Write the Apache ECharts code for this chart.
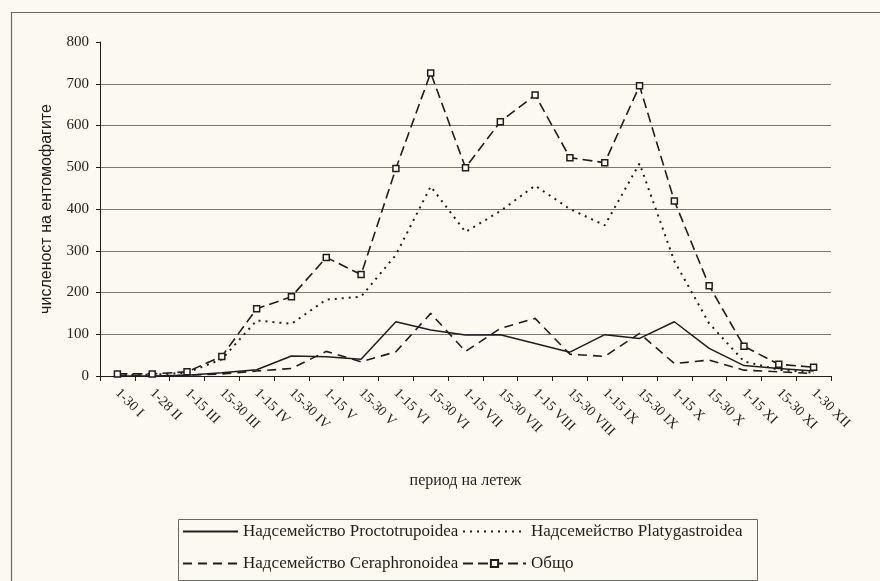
<!DOCTYPE html>
<html>
<head>
<meta charset="utf-8">
<script src="https://cdn.jsdelivr.net/npm/echarts@6/dist/echarts.min.js"></script>
<style>
html,body{margin:0;padding:0;background:#fcfaf0;}
#chart{width:880px;height:581px;}
</style>
</head>
<body>
<div id="chart"></div>
<script>
var categories = ['1-30 I','1-28 II','1-15 III','15-30 III','1-15 IV','15-30 IV','1-15 V','15-30 V','1-15 VI','15-30 VI','1-15 VII','15-30 VII','1-15 VIII','15-30 VIII','1-15 IX','15-30 IX','1-15 X','15-30 X','1-15 XI','15-30 XI','1-30 XII'];
var proctotrupoidea = [0,0,2,8,15,48,46,40,130,110,98,99,78,57,99,90,130,66,25,18,12];
var platygastroidea = [2,3,8,40,133,125,183,190,290,454,345,395,456,400,361,509,275,126,35,15,8];
var ceraphronoidea = [0,0,2,5,12,18,59,34,58,150,59,114,138,52,47,102,30,38,14,10,6];
var obshto = [5,5,10,47,161,190,284,243,497,726,499,609,673,523,511,695,419,216,71,28,21];
var yTicks = {min:0, max:800, interval:100};
var seriesNames = ['Надсемейство Proctotrupoidea','Надсемейство Platygastroidea','Надсемейство Ceraphronoidea','Общо'];

var serif = '"Liberation Serif", "DejaVu Serif", serif';
var sans = '"Liberation Sans", Arial, sans-serif';
var ink = '#1e1e1e';
var paper = '#fcfaf0';

var chart = echarts.init(document.getElementById('chart'), null, {renderer:'canvas'});
function legendAt(name, left, top, width, hideSymbol){
  var l = {
    data:[name], left:left, top:top, orient:'horizontal', padding:0,
    itemWidth:width, itemHeight:9, itemGap:0,
    textStyle:{fontFamily:serif, fontSize:17, color:ink},
    selectedMode:false
  };
  if (hideSymbol) { l.itemStyle = {opacity:0}; }
  return l;
}
var option = {
  backgroundColor:paper,
  animation:false,
  grid:{left:100, right:49, top:42, bottom:205, containLabel:false},
  legend:[
    legendAt(seriesNames[0], 182, 523, 55, true),
    legendAt(seriesNames[1], 462, 523, 63, true),
    legendAt(seriesNames[2], 182, 555, 55, true),
    legendAt(seriesNames[3], 462, 555, 63, false)
  ],
  graphic:[
    {type:'rect', left:9, top:10, shape:{x:0,y:0,width:900,height:600}, style:{fill:'none', stroke:'#6a6a60', lineWidth:1.2}, silent:true},
    {type:'rect', left:176, top:517, shape:{x:0,y:0,width:579,height:61}, style:{fill:'none', stroke:'#6a6a60', lineWidth:1}, silent:true}
  ],
  xAxis:{
    type:'category', data:categories, boundaryGap:true,
    name:'период на летеж', nameLocation:'middle', nameGap:97,
    nameTextStyle:{fontFamily:serif, fontSize:16, color:ink},
    axisLine:{lineStyle:{color:ink, width:1}},
    axisTick:{show:true, alignWithLabel:false, length:5, lineStyle:{color:ink}},
    axisLabel:{interval:0, rotate:-45, margin:15, fontFamily:serif, fontSize:14, color:ink},
    splitLine:{show:false}
  },
  yAxis:{
    type:'value', min:yTicks.min, max:yTicks.max, interval:yTicks.interval,
    name:'численост на ентомофагите', nameLocation:'middle', nameGap:45, nameRotate:90,
    nameTextStyle:{fontFamily:sans, fontSize:16, color:ink},
    axisLine:{show:true, lineStyle:{color:ink, width:1}},
    axisTick:{show:true, length:4, lineStyle:{color:ink}},
    axisLabel:{margin:11, fontFamily:serif, fontSize:15, color:ink},
    splitLine:{show:true, showMinLine:false, showMaxLine:false, lineStyle:{color:'#7a7a6e', width:1}}
  },
  series:[
    {name:seriesNames[0], type:'line', data:proctotrupoidea, symbol:'none',
     lineStyle:{color:ink, width:1.5, type:'solid'}, itemStyle:{color:ink}},
    {name:seriesNames[1], type:'line', data:platygastroidea, symbol:'none',
     lineStyle:{color:ink, width:2, type:[2,5]}, itemStyle:{color:ink}},
    {name:seriesNames[2], type:'line', data:ceraphronoidea, symbol:'none',
     lineStyle:{color:ink, width:1.6, type:[9,6]}, itemStyle:{color:ink}},
    {name:seriesNames[3], type:'line', data:obshto, symbol:'rect', symbolSize:6,
     lineStyle:{color:ink, width:1.6, type:[10,5]},
     itemStyle:{color:paper, borderColor:ink, borderWidth:1.5}}
  ]
};
chart.setOption(option);
</script>
</body>
</html>
